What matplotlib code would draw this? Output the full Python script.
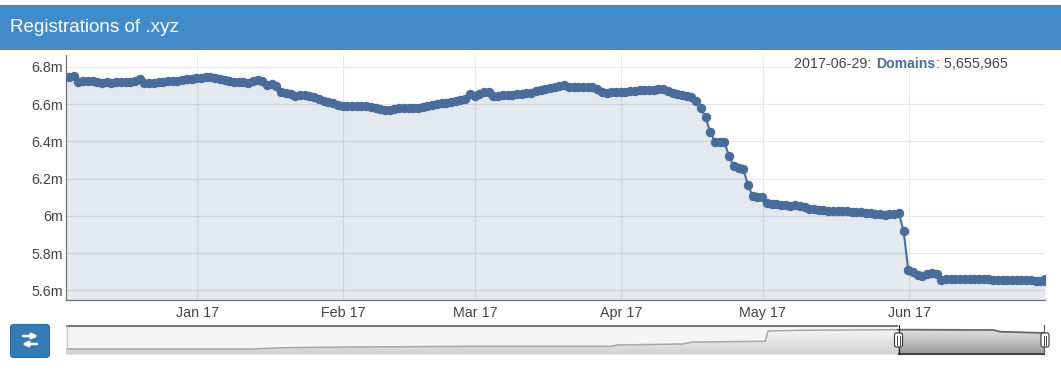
import matplotlib
matplotlib.use("Agg")
import matplotlib.pyplot as plt
import matplotlib.dates as mdates
import numpy as np
import pandas as pd
from matplotlib.patches import Rectangle, FancyBboxPatch

plt.rcParams['font.family'] = ['Liberation Sans', 'DejaVu Sans']

# daily registrations (millions)
dec = [6.745, 6.748, 6.753, 6.718, 6.724, 6.727, 6.722, 6.717, 6.716, 6.717, 6.716, 6.717, 6.720, 6.720, 6.718,
       6.724, 6.733, 6.712, 6.714, 6.716, 6.718, 6.720, 6.722, 6.725, 6.727, 6.730, 6.733, 6.737, 6.739]
jan = [6.742, 6.748, 6.748, 6.743, 6.737, 6.730, 6.722, 6.718, 6.719, 6.721, 6.716, 6.726, 6.729, 6.725, 6.703, 6.708,
       6.700, 6.666, 6.658, 6.652, 6.646, 6.648, 6.648, 6.644, 6.637, 6.630, 6.617, 6.610, 6.604, 6.597, 6.590]
feb = [6.588, 6.589, 6.590, 6.591, 6.590, 6.586, 6.581, 6.575, 6.568, 6.568, 6.572, 6.577, 6.578, 6.579,
       6.580, 6.582, 6.584, 6.588, 6.593, 6.599, 6.604, 6.607, 6.611, 6.615, 6.620, 6.626, 6.652, 6.646]
mar = [6.653, 6.663, 6.666, 6.643, 6.645, 6.648, 6.649, 6.650, 6.652, 6.655, 6.658, 6.662, 6.670, 6.675, 6.682, 6.686,
       6.692, 6.696, 6.704, 6.692, 6.692, 6.693, 6.693, 6.693, 6.694, 6.683, 6.665, 6.662, 6.663, 6.664, 6.665]
apr = [6.667, 6.669, 6.672, 6.675, 6.677, 6.677, 6.678, 6.680, 6.683, 6.672, 6.662, 6.655, 6.649, 6.643, 6.638,
       6.618, 6.580, 6.530, 6.449, 6.398, 6.395, 6.397, 6.320, 6.268, 6.256, 6.252, 6.168, 6.105, 6.102, 6.100]
may = [6.069, 6.066, 6.064, 6.061, 6.058, 6.055, 6.061, 6.053, 6.046, 6.040, 6.037, 6.034, 6.031, 6.029, 6.028, 6.027,
       6.026, 6.025, 6.024, 6.022, 6.020, 6.018, 6.015, 6.011, 6.008, 6.007, 6.008, 6.010, 6.014, 5.921, 5.712]
jun = [5.697, 5.685, 5.679, 5.688, 5.692, 5.690, 5.659, 5.660, 5.660, 5.660, 5.661, 5.662, 5.662, 5.664, 5.664,
       5.662, 5.660, 5.658, 5.656, 5.656, 5.655, 5.655, 5.655, 5.655, 5.654, 5.654, 5.653, 5.652, 5.656]
domains = dec + jan + feb + mar + apr + may + jun
dates = pd.date_range("2016-12-03 20:00", periods=len(domains), freq="D")

y_ticks = [5.6, 5.8, 6.0, 6.2, 6.4, 6.6, 6.8]
y_labels = ["5.6m", "5.8m", "6m", "6.2m", "6.4m", "6.6m", "6.8m"]
x_ticks = ["2017-01-01", "2017-02-01", "2017-03-01", "2017-04-01", "2017-05-01", "2017-06-01"]
x_labels = ["Jan 17", "Feb 17", "Mar 17", "Apr 17", "May 17", "Jun 17"]

# overview strip below the chart
nav_dates = ["2013-09-16", "2014-06-07", "2014-07-19", "2014-10-18", "2015-04-05", "2015-10-24", "2015-11-03",
             "2016-02-03", "2016-02-18", "2016-05-30", "2016-06-03", "2016-07-19", "2016-12-03", "2017-04-17",
             "2017-04-27", "2017-06-29"]
nav_values = [0.33, 0.33, 0.77, 1.0, 1.23, 1.23, 1.67, 2.0, 2.67, 2.9, 6.33, 6.57, 6.77, 6.67, 6.1, 5.67]

W, H = 1061, 372
BLUE = "#4a6c9b"
TEXT = "#444444"


def axes_px(left, top, right, bottom, **kw):
    return fig.add_axes([left / W, 1 - bottom / H, (right - left) / W, (bottom - top) / H], **kw)


fig = plt.figure(figsize=(W / 100, H / 100), dpi=100, facecolor="white")

# Main chart
ax = axes_px(66, 55, 1045, 300, zorder=1)
x = mdates.date2num(dates)
ax.fill_between(x, domains, 5.4, color=BLUE, alpha=0.15, linewidth=0, zorder=2)
ax.plot(x, domains, color=BLUE, linewidth=1.5, marker="o", markersize=6.8, markeredgewidth=0, zorder=3)
ax.plot(x[-1:], domains[-1:], color=BLUE, marker="o", markersize=8, markeredgewidth=0, zorder=4)
ax.set_xlim(mdates.date2num(pd.Timestamp("2016-12-04 04:30")), x[-1])
ax.set_ylim(5.549, 6.864)
ax.set_yticks(y_ticks, y_labels)
ax.set_xticks(mdates.date2num(pd.to_datetime(x_ticks)), x_labels)
ax.grid(color="#e6e6e6", linewidth=0.8, zorder=0)
ax.set_axisbelow(True)
ax.tick_params(length=0, labelsize=10.3, colors=TEXT, pad=2)
ax.tick_params(axis="x", pad=4)
for s in ["top", "right"]:
    ax.spines[s].set_visible(False)
for s in ["left", "bottom"]:
    ax.spines[s].set_color("#707070")
    ax.spines[s].set_linewidth(0.9)

# Overview strip
nav = axes_px(66, 325, 1045, 354.5, zorder=2)
nx = mdates.date2num(pd.to_datetime(nav_dates))
nv = np.array(nav_values)
nav.axis("off")
split = mdates.date2num(pd.Timestamp("2016-12-04"))
nav.add_patch(Rectangle((nx[0], -1.5), split - nx[0], 9.83, facecolor="#f5f5f5", edgecolor="none", zorder=0))

grad = np.linspace(0, 1, 64).reshape(-1, 1)
left_cols = matplotlib.colors.LinearSegmentedColormap.from_list("l", ["#f6f6f6", "#d0d0d0"])
right_cols = matplotlib.colors.LinearSegmentedColormap.from_list("r", ["#e2e2e2", "#9a9a9a"])
fl = nav.fill_between(nx, nav_values, -1.5, color="none")
img = nav.imshow(grad, extent=(nx[0], split, -1.5, 7.0), cmap=left_cols, aspect="auto", zorder=1, vmin=0, vmax=1)
img.set_clip_path(fl.get_paths()[0], transform=nav.transData)
img2 = nav.imshow(grad, extent=(split, nx[-1], -1.5, 7.0), cmap=right_cols, aspect="auto", zorder=1, vmin=0, vmax=1)
img2.set_clip_path(fl.get_paths()[0], transform=nav.transData)
nav.set_xlim(nx[0], nx[-1])
nav.set_ylim(-1.5, 8.33)

last_left = nx < split
nav.plot(nx[last_left], nv[last_left], color="#a8a8a8", linewidth=1.1, zorder=2)
sel = nx >= split - 5
nav.plot(nx[sel], nv[sel], color="#666666", linewidth=1.3, zorder=2)

# Page furniture in pixel coordinates
page = axes_px(0, 0, W, H, zorder=5)
page.set_xlim(0, W)
page.set_ylim(H, 0)
page.axis("off")

page.add_patch(Rectangle((0, 5), W, 45, facecolor="#428bca", edgecolor="none"))
page.text(10, 28, "Registrations of .xyz", color="white", fontsize=13.6, va="center", ha="left")

# legend box hides the grid behind it
page.add_patch(Rectangle((793, 55), 252, 16, facecolor="white", edgecolor="none"))
page.text(794, 63.5, "2017-06-29: ", color=TEXT, fontsize=10.4, va="center", ha="left")
page.text(876, 63.5, "Domains", color=BLUE, fontsize=10.1, fontweight="bold", va="center", ha="left")
page.text(1008, 63.5, ": 5,655,965", color=TEXT, fontsize=10.4, va="center", ha="right")

# toggle button
page.add_patch(FancyBboxPatch((10.5, 324.5), 39, 33, boxstyle="round,pad=0,rounding_size=3",
                              facecolor="#337ab7", edgecolor="#2e6da4", linewidth=0.8, mutation_aspect=1))
page.annotate("", xy=(38, 336), xytext=(23, 336),
              arrowprops=dict(arrowstyle="-|>", color="white", lw=1.8, mutation_scale=8, shrinkA=0, shrinkB=0))
page.annotate("", xy=(22, 344), xytext=(37, 344),
              arrowprops=dict(arrowstyle="-|>", color="white", lw=1.8, mutation_scale=8, shrinkA=0, shrinkB=0))

# overview frame and handles
page.plot([66, 898], [325.5, 325.5], color="#777777", linewidth=1.5, solid_capstyle="butt")
page.plot([66.5, 66.5], [326, 350], color="#c4c4c4", linewidth=0.8)
page.plot([898, 1045], [353.7, 353.7], color="#444444", linewidth=1.5, solid_capstyle="butt")
page.plot([898.5, 898.5], [325, 354], color="#222222", linewidth=0.8)
page.plot([1044, 1044], [325, 354], color="#555555", linewidth=0.8)
for hx in [898.5, 1045]:
    page.add_patch(FancyBboxPatch((hx - 4, 333), 8, 14, boxstyle="round,pad=0,rounding_size=2",
                                  facecolor="white", edgecolor="#333333", linewidth=0.8, mutation_aspect=1, zorder=4))
    page.plot([hx - 1.3, hx - 1.3], [335.5, 344.5], color="#444444", linewidth=0.7, zorder=5)
    page.plot([hx + 1.3, hx + 1.3], [335.5, 344.5], color="#444444", linewidth=0.7, zorder=5)

fig.savefig("out.png", dpi=100)
